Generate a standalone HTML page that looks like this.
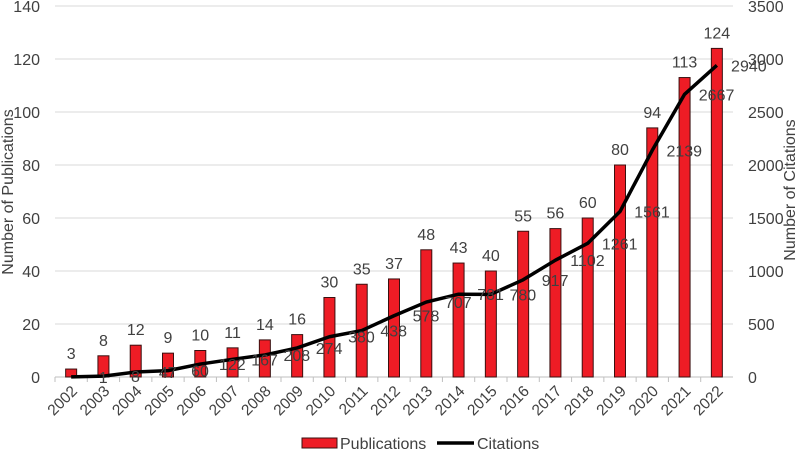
<!DOCTYPE html>
<html><head><meta charset="utf-8"><style>
body{margin:0;background:#fff;}
svg text{font-family:"Liberation Sans",sans-serif;fill:#404040;}
</style></head><body>
<svg id="c" width="800" height="449"></svg>
<script>
const years=["2002","2003","2004","2005","2006","2007","2008","2009","2010","2011","2012","2013","2014","2015","2016","2017","2018","2019","2020","2021","2022"];
const publications=[3,8,12,9,10,11,14,16,30,35,37,48,43,40,55,56,60,80,94,113,124];
const citations=[1,8,47,60,122,167,208,274,380,438,578,707,781,780,917,1102,1261,1561,2139,2667,2940];
const leftTicks=[0,20,40,60,80,100,120,140];
const rightTicks=[0,500,1000,1500,2000,2500,3000,3500];
const NS="http://www.w3.org/2000/svg";
const svg=document.getElementById('c');
const L=55,R=733,T=6,B=377;
const step=(R-L)/years.length;
const xc=i=>L+step*(i+0.5);
const yl=v=>B-v/140*(B-T);
const yr=v=>B-v/3500*(B-T);
function el(t,a,txt){const e=document.createElementNS(NS,t);for(const k in a)e.setAttribute(k,a[k]);if(txt!==undefined)e.textContent=txt;svg.appendChild(e);return e;}
leftTicks.forEach((v,i)=>{
  const g=el('line',{x1:L,x2:R,y1:yl(v),y2:yl(v),stroke:v===0?'#bfbfbf':'#d9d9d9','stroke-width':1});
  
  
  const t=el('text',{x:40,y:yl(v)+6,'text-anchor':'end','font-size':16},v);
  
  
});
rightTicks.forEach(v=>{
  const t=el('text',{x:748,y:yr(v)+6,'font-size':16},v);
  
  
});
years.forEach((y,i)=>{
  const tk=el('line',{x1:L+step*i,x2:L+step*i,y1:B,y2:B+5,stroke:'#bfbfbf'});
  
  
  const x=xc(i);
  const t=el('text',{x:x+7,y:B+15,'text-anchor':'end','font-size':15.5,transform:`rotate(-45 ${x+7} ${B+15})`},y);
  
  
  const b=el('rect',{x:x-5.5,y:yl(publications[i]),width:11,height:B-yl(publications[i]),fill:'#ee1c25',stroke:'#3a1010','stroke-width':1});
  
  
  const bl=el('text',{x:x,y:yl(publications[i])-10,'text-anchor':'middle','font-size':16},publications[i]);
  
  
});
const ln=el('polyline',{points:citations.map((v,i)=>xc(i)+','+yr(v)).join(' '),fill:'none',stroke:'#000','stroke-width':3.5,'stroke-linejoin':'round'});


citations.forEach((v,i)=>{
  const t=el('text',{x:xc(i)+32,y:yr(v)+6,'text-anchor':'middle','font-size':16},v);
  
  
});
const ly=el('text',{x:13,y:192,'text-anchor':'middle','font-size':16,transform:'rotate(-90 13 192)'},'Number of Publications');


const ry=el('text',{x:795,y:190,'text-anchor':'middle','font-size':16,transform:'rotate(-90 795 190)'},'Number of Citations');


const lb=el('rect',{x:302,y:438,width:35,height:10,fill:'#ee1c25',stroke:'#3a1010'});


const lt=el('text',{x:340,y:449,'font-size':16},'Publications');


const ll=el('line',{x1:437,x2:474,y1:443,y2:443,stroke:'#000','stroke-width':3.5});


const lt2=el('text',{x:477,y:449,'font-size':16},'Citations');


</script>
</body></html>
